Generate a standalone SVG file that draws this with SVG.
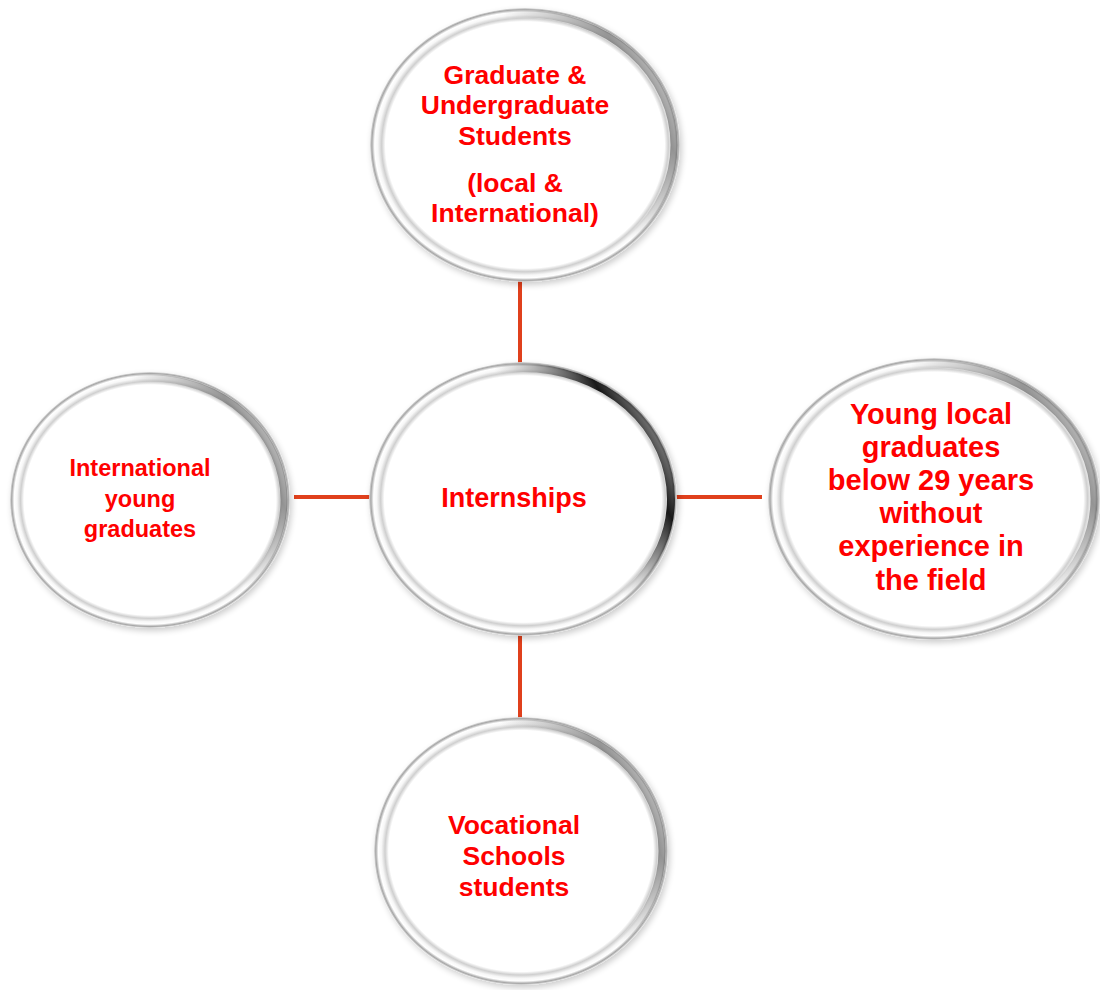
<svg xmlns="http://www.w3.org/2000/svg" width="1100" height="990" viewBox="0 0 1100 990">
<defs>
<radialGradient id="ring" cx="0.5" cy="0.5" r="0.5">
<stop offset="0" stop-color="#ffffff"/>
<stop offset="0.9" stop-color="#ffffff"/>
<stop offset="0.925" stop-color="#cfcfcf"/>
<stop offset="0.95" stop-color="#f7f7f7"/>
<stop offset="0.97" stop-color="#ffffff"/>
<stop offset="0.988" stop-color="#a6a6a6"/>
<stop offset="1" stop-color="#e2e2e2"/>
</radialGradient>
<linearGradient id="shade" x1="0.1" y1="0.75" x2="1" y2="0.3">
<stop offset="0" stop-color="#ffffff" stop-opacity="0"/>
<stop offset="0.62" stop-color="#808080" stop-opacity="0"/>
<stop offset="0.9" stop-color="#505050" stop-opacity="0.6"/>
<stop offset="1" stop-color="#404040" stop-opacity="0.35"/>
</linearGradient>
<linearGradient id="shadeDark" x1="0.1" y1="0.75" x2="1" y2="0.3">
<stop offset="0" stop-color="#ffffff" stop-opacity="0"/>
<stop offset="0.6" stop-color="#808080" stop-opacity="0"/>
<stop offset="0.88" stop-color="#000000" stop-opacity="0.9"/>
<stop offset="1" stop-color="#202020" stop-opacity="0.55"/>
</linearGradient>
<filter id="sh" x="-10%" y="-10%" width="120%" height="120%">
<feGaussianBlur in="SourceAlpha" stdDeviation="3"/>
<feOffset dx="2" dy="3" result="b"/>
<feComponentTransfer><feFuncA type="linear" slope="0.2"/></feComponentTransfer>
<feMerge><feMergeNode/><feMergeNode in="SourceGraphic"/></feMerge>
</filter>
</defs>
<style>
.c{fill:url(#ring);filter:url(#sh)}
.s{fill:none;stroke:url(#shade);stroke-width:7}
.sd{fill:none;stroke:url(#shadeDark);stroke-width:8}
.t{font-family:"Liberation Sans",Arial,sans-serif;font-weight:bold;fill:#ff0000;text-anchor:middle}
.ln{stroke:#e0401c;stroke-width:4;fill:none}
</style>
<rect width="1100" height="990" fill="#ffffff"/>
<g id="connectors">
<line class="ln" x1="520" y1="280" x2="520" y2="364"/>
<line class="ln" x1="520" y1="634" x2="520" y2="719"/>
<line class="ln" x1="294" y1="497" x2="372" y2="497"/>
<line class="ln" x1="675" y1="497" x2="762" y2="497"/>
</g>
<g id="top">
<ellipse class="c" cx="525" cy="145" rx="155" ry="137"/>
<ellipse class="s" cx="525" cy="145" rx="149" ry="131"/>
<text class="t" font-size="26.5"><tspan x="515" y="84">Graduate &amp;</tspan><tspan x="515" y="114">Undergraduate</tspan><tspan x="515" y="145">Students</tspan><tspan x="515" y="192">(local &amp;</tspan><tspan x="515" y="222">International)</tspan></text>
</g>
<g id="center">
<ellipse class="c" cx="523" cy="499" rx="154" ry="137"/>
<ellipse class="sd" cx="523" cy="499" rx="148" ry="131"/>
<text class="t" font-size="27" x="514" y="507">Internships</text>
</g>
<g id="left">
<ellipse class="c" cx="150" cy="500" rx="140" ry="128"/>
<ellipse class="s" cx="150" cy="500" rx="134" ry="122"/>
<text class="t" font-size="23.5"><tspan x="140" y="476">International</tspan><tspan x="140" y="507">young</tspan><tspan x="140" y="537">graduates</tspan></text>
</g>
<g id="right">
<ellipse class="c" cx="934" cy="499" rx="166" ry="141"/>
<ellipse class="s" cx="934" cy="499" rx="160" ry="135"/>
<text class="t" font-size="29"><tspan x="931" y="424">Young local</tspan><tspan x="931" y="457">graduates</tspan><tspan x="931" y="490">below 29 years</tspan><tspan x="931" y="523">without</tspan><tspan x="931" y="556">experience in</tspan><tspan x="931" y="590">the field</tspan></text>
</g>
<g id="bottom">
<ellipse class="c" cx="521" cy="851" rx="147" ry="134"/>
<ellipse class="s" cx="521" cy="851" rx="141" ry="128"/>
<text class="t" font-size="26.5"><tspan x="514" y="834">Vocational</tspan><tspan x="514" y="865">Schools</tspan><tspan x="514" y="896">students</tspan></text>
</g>
</svg>
